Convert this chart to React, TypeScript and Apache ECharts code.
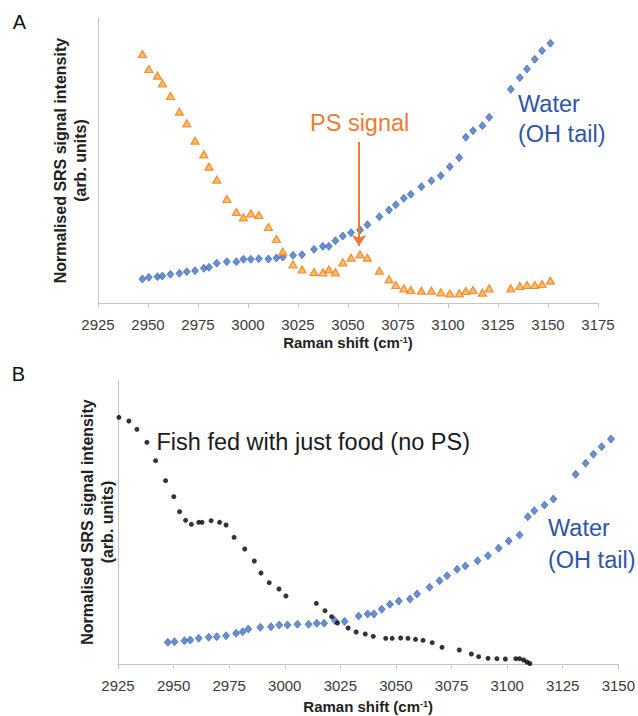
import React, { useEffect, useRef } from "react";
import * as echarts from "echarts";

// ---------- Panel A data ----------
const aXTicks = [2925, 2950, 2975, 3000, 3025, 3050, 3075, 3100, 3125, 3150, 3175];
const aWavenumbers = [
  2947.2, 2950.4, 2954.7, 2957.2, 2961.2, 2965.7, 2969.4, 2973.5, 2977.9, 2980.5,
  2984.4, 2989.4, 2994.2, 2997.7, 3001.4, 3005.4, 3010.2, 3014.2, 3017.4, 3022.5,
  3027.0, 3033.0, 3037.4, 3040.4, 3043.7, 3047.4, 3051.5, 3056.0, 3059.7, 3065.7,
  3070.5, 3073.9, 3077.9, 3081.4, 3086.7, 3091.7, 3096.4, 3100.9, 3105.6, 3108.9,
  3112.5, 3117.2, 3120.6, 3131.4, 3135.9, 3139.5, 3143.4, 3147.0, 3151.2,
];
const aPSSignal = [
  249, 234, 227.3, 219.7, 207, 191.3, 179.7, 162.3, 148.7, 136.3,
  123.3, 104, 91, 85.7, 89.7, 88, 76, 64, 51.3, 38.7,
  33.7, 31, 30.7, 33.7, 30.7, 40.7, 45.3, 48.7, 45.3, 32.3,
  23.7, 18, 14.7, 13, 12.3, 12.3, 10.7, 9.7, 9.7, 12,
  13, 10.3, 14.7, 14.7, 17, 18, 18, 19, 22.3,
];
const aWaterSignal = [
  24, 25.7, 26.3, 27, 28.7, 29.7, 31.3, 32.3, 34.7, 35.7,
  39.7, 41.3, 41.3, 43.7, 43.7, 44.3, 44, 45, 46, 47.7,
  48.3, 53.7, 56.7, 56.7, 62.3, 67, 70.3, 73, 78.3, 86.3,
  93, 98.3, 104.7, 108.7, 116.3, 122.3, 127.3, 136.3, 145.3, 165.7,
  172.3, 177.3, 185.7, 213.7, 225.3, 234, 243.7, 252.3, 259.7,
];
const aYMax = 285;
const aArrowX = 3055.5;
const aArrowFrom = 161;
const aArrowTo = 57;

// ---------- Panel B data ----------
const bXTicks = [2925, 2950, 2975, 3000, 3025, 3050, 3075, 3100, 3125, 3150];
const bFishWavenumbers = [
  2925.4, 2929.9, 2933.5, 2938.0, 2941.9, 2946.4, 2950.1, 2952.7, 2955.4, 2958.0,
  2961.3, 2962.8, 2966.9, 2970.7, 2973.6, 2977.2, 2982.0, 2986.3, 2989.3, 2993.0,
  2997.4, 3000.5, 3014.2, 3018.1, 3021.1, 3023.7, 3028.5, 3032.1, 3036.2, 3039.8,
  3045.4, 3048.3, 3052.1, 3055.4, 3058.8, 3062.2, 3066.3, 3070.7, 3078.5, 3083.9,
  3087.2, 3091.4, 3095.4, 3099.2, 3103.9, 3105.6, 3107.4, 3108.9, 3110.2,
];
const bFishSignal = [
  246.7, 243, 234.7, 221.7, 203.3, 183.3, 167.3, 152.3, 143.7, 139.7,
  141.7, 141.7, 143.3, 141.7, 139, 126.7, 115, 103, 91, 81.3,
  75, 68, 60.7, 53.3, 47.3, 41, 36, 32, 30, 27.7,
  25.7, 25.7, 26, 25.7, 24.7, 23.7, 21.3, 16.7, 14, 10,
  7.3, 5.7, 5.3, 5, 5.3, 5.3, 4, 2, 0.5,
];
const bWaterWavenumbers = [
  2947.4, 2950.4, 2954.9, 2957.5, 2961.3, 2965.8, 2969.4, 2973.6, 2978.1, 2981.1,
  2983.6, 2989.0, 2993.8, 2997.5, 3001.2, 3005.7, 3010.7, 3014.4, 3017.7, 3022.5,
  3026.9, 3033.2, 3037.3, 3040.1, 3043.6, 3047.3, 3051.3, 3056.3, 3059.5, 3065.1,
  3069.6, 3073.0, 3077.5, 3081.2, 3086.7, 3091.4, 3096.2, 3100.7, 3105.6, 3109.3,
  3112.2, 3116.8, 3120.8, 3130.8, 3135.3, 3138.8, 3142.5, 3146.7,
];
const bWaterSignal = [
  21.7, 22.3, 23.3, 24, 25.7, 26.7, 27.3, 28.3, 30.7, 32.3,
  35, 36.7, 37.3, 39, 39, 39.7, 39.7, 40.7, 40.7, 43.5,
  42.5, 48, 50, 50, 54.7, 59.7, 63, 65, 70, 76.7,
  83.3, 88.3, 94.7, 98, 103.3, 108.3, 115.7, 123, 129, 147.3,
  153.3, 159, 165, 189.7, 200.7, 209.7, 217.3, 225,
];
const bYMax = 284;

const FONT = "Arial, 'Liberation Sans', Helvetica, sans-serif";
const AXIS_COLOR = "#C4C4C4";
const ORANGE = "#F07A35";
const BLUE_TEXT = "#2F56A6";
const BLUE_MARK = "#4473C8";

const zip = (xs: number[], ys: number[]) => xs.map((x, i) => [x, ys[i]]);

function xAxisFor(gridIndex: number, ticks: number[], nameGap: number) {
  return {
    type: "value",
    gridIndex,
    min: ticks[0],
    max: ticks[ticks.length - 1],
    interval: ticks[1] - ticks[0],
    axisLine: { show: true, lineStyle: { color: AXIS_COLOR, width: 1 } },
    axisTick: { show: true, length: 5, lineStyle: { color: AXIS_COLOR } },
    axisLabel: {
      margin: 14,
      fontSize: 15,
      color: "#3b3b3b",
      fontFamily: FONT,
      formatter: (v: number) => String(v),
    },
    splitLine: { show: false },
    name: "Raman shift (cm{sup|-1})",
    nameLocation: "middle",
    nameGap,
    nameTextStyle: {
      fontSize: 15,
      fontWeight: "bold",
      color: "#222",
      fontFamily: FONT,
      rich: {
        sup: { fontSize: 9, fontWeight: "bold", color: "#222", fontFamily: FONT, verticalAlign: "top", padding: [0, 0, 5, 0] },
      },
    },
  };
}

function yAxisFor(gridIndex: number, max: number) {
  return {
    type: "value",
    gridIndex,
    min: 0,
    max,
    axisLine: { show: true, lineStyle: { color: AXIS_COLOR, width: 1 } },
    axisTick: { show: false },
    axisLabel: { show: false },
    splitLine: { show: false },
  };
}

export default function App() {
  const ref = useRef<HTMLDivElement>(null);
  useEffect(() => {
    document.body.style.margin = "0";
    if (!ref.current) return;
    const chart = echarts.init(ref.current, undefined, { renderer: "svg" });
    const yLabelStyle = {
      text: "Normalised SRS signal intensity\n(arb. units)",
      align: "center",
      verticalAlign: "middle",
      fontSize: 16,
      fontWeight: "bold",
      fontFamily: FONT,
      lineHeight: 20,
      fill: "#222",
    };
    chart.setOption({
      animation: false,
      backgroundColor: "#fff",
      grid: [
        { left: 98, top: 18, width: 500, height: 285 },
        { left: 118, top: 380, width: 502, height: 284 },
      ],
      xAxis: [xAxisFor(0, aXTicks, 32), xAxisFor(1, bXTicks, 35)],
      yAxis: [yAxisFor(0, aYMax), yAxisFor(1, bYMax)],
      series: [
        {
          name: "Water A",
          type: "scatter",
          xAxisIndex: 0,
          yAxisIndex: 0,
          symbol: "diamond",
          symbolSize: [7, 8],
          itemStyle: { color: BLUE_MARK, borderColor: "#2F5CB0", borderWidth: 0.8 },
          data: zip(aWavenumbers, aWaterSignal),
        },
        {
          name: "PS A",
          type: "scatter",
          xAxisIndex: 0,
          yAxisIndex: 0,
          symbol: "triangle",
          symbolSize: [8, 7],
          itemStyle: { color: "#FDB338", borderColor: "#F37A22", borderWidth: 1.3 },
          data: zip(aWavenumbers, aPSSignal),
          markLine: {
            silent: true,
            animation: false,
            symbol: ["none", "arrow"],
            symbolSize: [11, 11],
            label: { show: false },
            lineStyle: { color: ORANGE, width: 2, type: "solid" },
            emphasis: { disabled: true },
            data: [[{ coord: [aArrowX, aArrowFrom] }, { coord: [aArrowX, aArrowTo] }]],
          },
        },
        {
          name: "Water B",
          type: "scatter",
          xAxisIndex: 1,
          yAxisIndex: 1,
          symbol: "diamond",
          symbolSize: [7, 8],
          itemStyle: { color: BLUE_MARK, borderColor: "#2F5CB0", borderWidth: 0.8 },
          data: zip(bWaterWavenumbers, bWaterSignal),
        },
        {
          name: "Fish B",
          type: "scatter",
          xAxisIndex: 1,
          yAxisIndex: 1,
          symbol: "circle",
          symbolSize: 5,
          itemStyle: { color: "#000" },
          data: zip(bFishWavenumbers, bFishSignal),
        },
      ],
      graphic: [
        { type: "text", x: 19.5, y: 21.5, style: { text: "A", fontSize: 20, fontFamily: FONT, fill: "#111", align: "center", verticalAlign: "middle" } },
        { type: "text", x: 18.5, y: 374, style: { text: "B", fontSize: 20, fontFamily: FONT, fill: "#111", align: "center", verticalAlign: "middle" } },
        { type: "text", x: 70.5, y: 160.5, rotation: Math.PI / 2, style: yLabelStyle },
        { type: "text", x: 97.5, y: 522, rotation: Math.PI / 2, style: yLabelStyle },
        { type: "text", x: 310, y: 123, style: { text: "PS signal", fontSize: 23.5, fontFamily: FONT, fill: ORANGE, align: "left", verticalAlign: "middle" } },
        { type: "text", x: 518, y: 119, style: { text: "Water\n(OH tail)", fontSize: 23.5, lineHeight: 30, fontFamily: FONT, fill: BLUE_TEXT, align: "left", verticalAlign: "middle" } },
        { type: "text", x: 156.5, y: 442, style: { text: "Fish fed with just food (no PS)", fontSize: 23.5, fontFamily: FONT, fill: "#1a1a1a", align: "left", verticalAlign: "middle" } },
        { type: "text", x: 548, y: 544, style: { text: "Water\n(OH tail)", fontSize: 23.5, lineHeight: 32, fontFamily: FONT, fill: BLUE_TEXT, align: "left", verticalAlign: "middle" } },
      ],
    });
    return () => chart.dispose();
  }, []);
  return <div ref={ref} style={{ width: 638, height: 716 }} />;
}
